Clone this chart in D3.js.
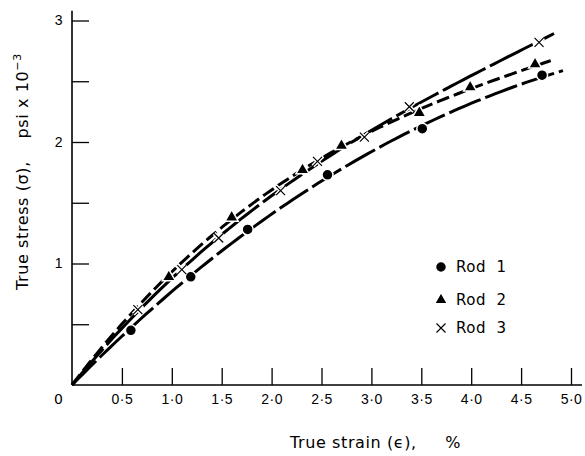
<!DOCTYPE html>
<html>
<head>
<meta charset="utf-8">
<script src="https://cdn.jsdelivr.net/npm/d3@7"></script>
<style>
  body { margin: 0; background: #fff; }
  svg { font-family: "DejaVu Sans", sans-serif; }
</style>
</head>
<body>
<div id="chart"></div>
<script>
const width = 585;
const height = 456;

// Values: strain (%), stress (psi x 10^-3)
const rod1Strain = [0.59, 1.19, 1.76, 2.56, 3.51, 4.71];
const rod1Stress = [0.45, 0.89, 1.28, 1.73, 2.11, 2.55];
const rod2Strain = [0.97, 1.60, 2.31, 2.70, 3.48, 3.99, 4.64];
const rod2Stress = [0.89, 1.38, 1.77, 1.97, 2.24, 2.45, 2.64];
const rod3Strain = [0.66, 1.10, 1.47, 2.09, 2.46, 2.93, 3.38, 4.68];
const rod3Stress = [0.62, 0.95, 1.21, 1.60, 1.84, 2.04, 2.29, 2.82];
// where each fitted curve stops
const curveEndStrain = [4.92, 4.84, 4.83];
const curveEndStress = [2.58, 2.67, 2.90];

const rodNames = ["Rod  1", "Rod  2", "Rod  3"];
const xTicks = [0.5, 1.0, 1.5, 2.0, 2.5, 3.0, 3.5, 4.0, 4.5, 5.0];
const yTicks = [0.5, 1, 1.5, 2, 2.5, 3];

const x = d3.scaleLinear().domain([0, 5]).range([72, 571]);
const y = d3.scaleLinear().domain([0, 3]).range([385, 20.5]);

const svg = d3.select("#chart")
	.append("svg")
	.attr("width", width)
	.attr("height", height);

// axes (ticks point inwards)
const xAxis = d3.axisBottom(x)
	.tickValues(xTicks)
	.tickSize(-17)
	.tickSizeOuter(0)
	.tickPadding(9)
	.tickFormat(d => d3.format(".1f")(d).replace(".", "·"));

const yAxis = d3.axisLeft(y)
	.tickValues(yTicks)
	.tickSize(-17)
	.tickSizeOuter(0)
	.tickPadding(9)
	.tickFormat(d => Number.isInteger(d) ? d : "");

const gx = svg.append("g")
	.attr("transform", `translate(0,${y(0)})`)
	.call(xAxis);
const gy = svg.append("g")
	.attr("transform", `translate(${x(0)},0)`)
	.call(yAxis);

[gx, gy].forEach(g => {
	g.select(".domain").remove();
	g.selectAll(".tick line").attr("stroke", "#000").attr("stroke-width", 1.3);
	g.selectAll(".tick text").attr("fill", "#000")
		.style("font-size", "14px").style("letter-spacing", "0.5px");
});

// axis lines run a bit past the last tick
svg.append("line")
	.attr("x1", x(0)).attr("x2", x(5.11))
	.attr("y1", y(0)).attr("y2", y(0))
	.attr("stroke", "#000").attr("stroke-width", 1.6);
svg.append("line")
	.attr("x1", x(0)).attr("x2", x(0))
	.attr("y1", y(0)).attr("y2", y(3.08))
	.attr("stroke", "#000").attr("stroke-width", 1.6);

// origin label
svg.append("text")
	.attr("x", x(0) - 9).attr("y", y(0) + 9)
	.attr("dy", "0.71em")
	.attr("text-anchor", "end")
	.style("font-size", "14px")
	.text("0");

// axis titles
svg.append("text")
	.attr("x", 290).attr("y", 448)
	.style("font-size", "16px")
	.style("letter-spacing", "0.6px")
	.attr("xml:space", "preserve")
	.text("True strain (ϵ),     %");

svg.append("text")
	.attr("transform", "translate(28,290) rotate(-90)")
	.style("font-size", "16px")
	.style("letter-spacing", "0.6px")
	.attr("xml:space", "preserve")
	.text("True stress (σ),    psi x 10")
	.append("tspan")
	.attr("dy", "-7")
	.style("font-size", "11px")
	.text("−3");

// smooth curve: least-squares cubic through the origin, σ = aε + bε² + cε³
function fitCubic(xs, ys) {
	const M = [[0, 0, 0], [0, 0, 0], [0, 0, 0]];
	const v = [0, 0, 0];
	xs.forEach((xv, k) => {
		const p = [xv, xv * xv, xv * xv * xv];
		for (let i = 0; i < 3; i++) {
			v[i] += p[i] * ys[k];
			for (let j = 0; j < 3; j++) M[i][j] += p[i] * p[j];
		}
	});
	// gaussian elimination
	for (let i = 0; i < 3; i++) {
		for (let r = i + 1; r < 3; r++) {
			const f = M[r][i] / M[i][i];
			for (let c = i; c < 3; c++) M[r][c] -= f * M[i][c];
			v[r] -= f * v[i];
		}
	}
	const c = [0, 0, 0];
	for (let i = 2; i >= 0; i--) {
		let s = v[i];
		for (let j = i + 1; j < 3; j++) s -= M[i][j] * c[j];
		c[i] = s / M[i][i];
	}
	return e => c[0] * e + c[1] * e * e + c[2] * e * e * e;
}

const rods = [
	{ xs: rod1Strain, ys: rod1Stress, dash: "34,5" },
	{ xs: rod2Strain, ys: rod2Stress, dash: "13,5" },
	{ xs: rod3Strain, ys: rod3Stress, dash: "48,5" }
];

const line = d3.line()
	.x(d => x(d[0]))
	.y(d => y(d[1]));

rods.forEach((r, i) => {
	const f = fitCubic(r.xs.concat([curveEndStrain[i]]), r.ys.concat([curveEndStress[i]]));
	const pts = d3.range(0, 81).map(k => {
		const e = curveEndStrain[i] * k / 80;
		return [e, f(e)];
	});
	svg.append("path")
		.datum(pts)
		.attr("fill", "none")
		.attr("stroke", "#000")
		.attr("stroke-width", 3)
		.attr("stroke-dasharray", r.dash)
		.attr("d", line);
});

// markers
const triangle = d3.symbol().type(d3.symbolTriangle).size(75);

function drawMarker(g, kind, cx, cy) {
	if (kind === 0) {
		g.append("circle").attr("cx", cx).attr("cy", cy).attr("r", 5.5)
			.attr("fill", "#000").attr("stroke", "#fff").attr("stroke-width", 1.5);
	} else if (kind === 1) {
		g.append("path").attr("d", triangle())
			.attr("transform", `translate(${cx},${cy})`)
			.attr("fill", "#000").attr("stroke", "#fff").attr("stroke-width", 1.5);
	} else {
		const s = 4.5;
		const d = `M${cx - s},${cy - s}L${cx + s},${cy + s}M${cx - s},${cy + s}L${cx + s},${cy - s}`;
		g.append("path").attr("d", d).attr("stroke", "#fff").attr("stroke-width", 4);
		g.append("path").attr("d", d).attr("stroke", "#000").attr("stroke-width", 1.2);
	}
}

const marks = svg.append("g");
rods.forEach((r, i) => {
	r.xs.forEach((v, j) => drawMarker(marks, i, x(v), y(r.ys[j])));
});

// legend
const legend = svg.append("g");
rodNames.forEach((name, i) => {
	const ly = [267, 300, 328][i];
	drawMarker(legend, i, 441, ly);
	legend.append("text")
		.attr("x", 456).attr("y", ly)
		.attr("dy", "0.35em")
		.attr("xml:space", "preserve")
		.style("font-size", "15px")
		.style("letter-spacing", "0.5px")
		.text(name);
});
</script>
</body>
</html>
